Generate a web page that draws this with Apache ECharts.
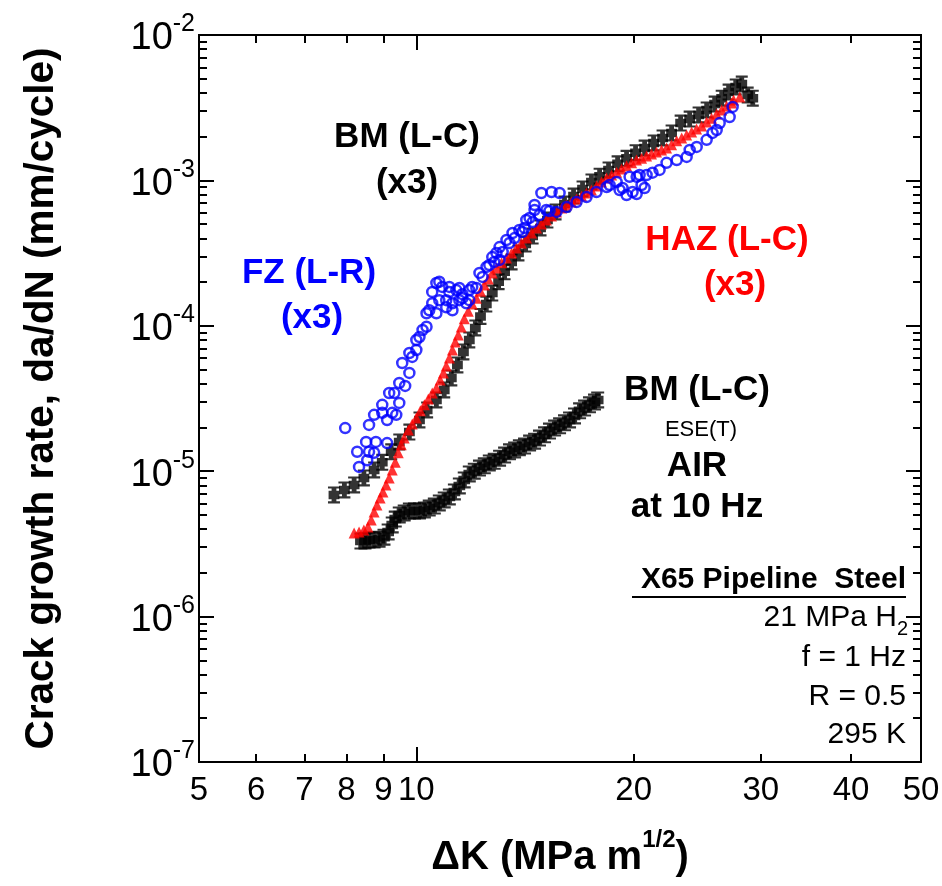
<!DOCTYPE html>
<html><head><meta charset="utf-8">
<script src="https://cdn.jsdelivr.net/npm/echarts@6/dist/echarts.min.js"></script>
<style>html,body{margin:0;padding:0;background:#fff}#c{width:942px;height:886px}</style>
</head><body><div id="c"></div>
<script>
// ---------- tick values ----------
const xTickLabels = [5, 6, 7, 8, 9, 10, 20, 30, 40, 50];
const xMinorTicks = [6, 7, 8, 9, 20, 30, 40];
const xMajorTicks = [10];
const yMajorTicks = [1e-7, 1e-6, 1e-5, 1e-4, 1e-3, 1e-2];
const yMinorTicks = [2e-7,3e-7,4e-7,5e-7,6e-7,7e-7,8e-7,9e-7,
  2e-6,3e-6,4e-6,5e-6,6e-6,7e-6,8e-6,9e-6,
  2e-5,3e-5,4e-5,5e-5,6e-5,7e-5,8e-5,9e-5,
  2e-4,3e-4,4e-4,5e-4,6e-4,7e-4,8e-4,9e-4,
  2e-3,3e-3,4e-3,5e-3,6e-3,7e-3,8e-3,9e-3];

// ---------- BM (L-C) in 21 MPa H2 (black, error bars) ----------
const bmH2K = [7.69,7.95,8.20,8.46,8.74,8.97,9.23,9.47,9.78,10.10,10.35,10.66,10.93,11.18,11.40,
  11.62,11.84,12.07,12.27,12.50,12.74,13.00,13.25,13.55,13.85,14.17,14.49,14.86,15.19,15.59,
  16.04,16.51,16.99,17.48,17.94,18.46,19.00,19.55,20.12,20.71,21.31,21.93,22.57,23.23,23.91,
  24.60,25.24,25.89,26.48,27.07,27.69,28.23,28.77,29.24];
const bmH2Rate = [6.87e-6,7.43e-6,8.04e-6,8.98e-6,1.02e-5,1.15e-5,1.36e-5,1.59e-5,1.86e-5,2.25e-5,
  2.64e-5,3.09e-5,3.62e-5,4.38e-5,5.38e-5,6.61e-5,7.99e-5,9.66e-5,1.16e-4,1.41e-4,
  1.68e-4,2.01e-4,2.35e-4,2.75e-4,3.17e-4,3.65e-4,4.14e-4,4.71e-4,5.34e-4,6.07e-4,
  6.88e-4,7.81e-4,8.73e-4,9.75e-4,1.07e-3,1.18e-3,1.30e-3,1.42e-3,1.55e-3,1.67e-3,
  1.81e-3,1.96e-3,2.12e-3,2.48e-3,2.64e-3,2.82e-3,3.05e-3,3.35e-3,3.68e-3,4.05e-3,
  4.39e-3,4.60e-3,3.86e-3,3.68e-3];

// ---------- HAZ (L-C) (red triangles) ----------
const hazK = [8.20,8.33,8.46,8.57,8.66,8.74,8.82,8.91,8.99,9.08,9.17,9.26,9.35,9.44,9.53,9.62,9.75,9.87,10.00,10.13,
  10.26,10.39,10.52,10.66,10.79,10.90,11.00,11.11,11.22,11.32,11.43,11.54,11.65,11.80,11.95,12.11,12.27,12.42,12.58,12.74,
  12.91,13.12,13.33,13.55,13.76,13.98,14.21,14.44,14.67,14.90,15.14,15.39,15.64,15.89,16.14,16.40,16.67,16.94,17.20,17.48,
  17.77,18.05,18.34,18.64,18.94,19.24,19.55,19.87,20.18,20.51,20.84,21.17,21.51,21.86,22.21,22.57,22.94,23.31,23.68,24.06,
  24.44,24.84,25.24,25.64,26.06,26.48,26.90,27.33,27.51,28.05];
const hazRate = [3.76e-6,3.82e-6,3.94e-6,4.13e-6,4.62e-6,5.24e-6,5.86e-6,6.54e-6,7.20e-6,8.04e-6,
  8.98e-6,1.02e-5,1.15e-5,1.34e-5,1.52e-5,1.69e-5,1.92e-5,2.11e-5,2.32e-5,2.60e-5,
  2.86e-5,3.14e-5,3.45e-5,3.74e-5,4.24e-5,4.74e-5,5.29e-5,6.01e-5,6.82e-5,7.74e-5,
  8.65e-5,9.82e-5,1.12e-4,1.26e-4,1.41e-4,1.55e-4,1.73e-4,1.91e-4,2.10e-4,2.31e-4,
  2.50e-4,2.71e-4,2.93e-4,3.17e-4,3.43e-4,3.71e-4,4.01e-4,4.35e-4,4.71e-4,5.01e-4,
  5.34e-4,5.69e-4,6.07e-4,6.46e-4,6.77e-4,7.10e-4,7.45e-4,7.81e-4,8.19e-4,8.59e-4,
  9.15e-4,9.75e-4,1.04e-3,1.09e-3,1.14e-3,1.20e-3,1.26e-3,1.32e-3,1.38e-3,1.42e-3,
  1.47e-3,1.52e-3,1.57e-3,1.62e-3,1.67e-3,1.76e-3,1.87e-3,1.96e-3,2.05e-3,2.15e-3,
  2.26e-3,2.37e-3,2.52e-3,2.68e-3,2.86e-3,3.05e-3,3.25e-3,3.40e-3,3.57e-3,3.74e-3];

// ---------- FZ (L-R) (blue open circles) ----------
const fzK = [7.97,8.28,8.33,8.52,8.60,8.55,8.79,8.74,9.11,8.60,8.74,8.97,9.11,9.38,8.97,9.47,9.17,9.32,9.47,9.65,
  9.26,9.56,9.78,9.78,9.87,10.00,10.00,10.10,10.20,10.33,10.33,10.42,10.52,10.66,10.76,11.00,10.52,10.66,10.76,10.86,
  11.11,11.11,11.36,11.58,11.58,11.00,11.22,11.22,11.47,11.73,11.84,11.95,12.11,12.23,12.35,12.51,12.62,12.74,12.91,13.04,
  13.04,13.33,13.46,13.59,13.89,14.02,14.20,14.35,14.58,14.58,14.90,15.14,15.39,15.64,15.79,16.15,16.67,17.21,17.76,18.35,
  18.52,18.94,19.12,19.30,19.55,19.93,20.19,20.51,20.71,19.74,20.19,20.38,20.84,21.24,21.72,22.21,22.94,23.68,24.45,25.24,
  25.72,26.31,27.16,27.42,12.82,13.17,13.68,14.12,14.49,14.81,15.29,11.84,11.47,23.91,26.06];
const fzRate = [1.98e-5,1.36e-5,1.07e-5,1.59e-5,1.36e-5,1.19e-5,1.59e-5,1.34e-5,1.56e-5,2.08e-5,
  2.44e-5,2.86e-5,2.25e-5,2.44e-5,2.52e-5,2.95e-5,3.45e-5,3.45e-5,4.04e-5,3.86e-5,
  2.52e-5,5.55e-5,4.74e-5,6.50e-5,6.11e-5,6.82e-5,7.99e-5,8.38e-5,9.36e-5,9.85e-5,
  1.22e-4,1.28e-4,1.43e-4,1.22e-4,1.50e-4,1.34e-4,1.71e-4,1.97e-4,2.01e-4,1.85e-4,
  1.85e-4,1.71e-4,1.76e-4,1.65e-4,1.55e-4,1.50e-4,1.43e-4,1.28e-4,1.50e-4,1.43e-4,
  1.50e-4,1.85e-4,1.82e-4,2.31e-4,2.17e-4,2.54e-4,2.62e-4,2.97e-4,3.17e-4,2.84e-4,
  3.48e-4,3.89e-4,3.71e-4,4.35e-4,4.56e-4,4.42e-4,5.34e-4,5.52e-4,6.26e-4,6.77e-4,
  8.19e-4,6.26e-4,8.32e-4,6.07e-4,8.19e-4,6.56e-4,7.10e-4,7.69e-4,8.32e-4,9.01e-4,
  9.30e-4,9.75e-4,8.59e-4,8.86e-4,7.94e-4,8.32e-4,8.06e-4,9.30e-4,8.86e-4,1.06e-3,
  1.06e-3,1.09e-3,1.09e-3,1.13e-3,1.18e-3,1.32e-3,1.38e-3,1.45e-3,1.70e-3,1.90e-3,
  2.12e-3,2.48e-3,2.73e-3,3.20e-3,2.75e-4,3.22e-4,4.01e-4,4.71e-4,5.17e-4,5.78e-4,
  6.16e-4,1.76e-4,1.82e-4,1.62e-3,2.22e-3];

// ---------- BM (L-C) in air at 10 Hz (black squares) ----------
const bmAirK = [8.38,8.49,8.60,8.74,8.88,9.02,9.14,9.26,9.35,9.47,9.62,9.78,9.94,10.10,10.26,10.42,10.59,10.76,10.93,11.11,
  11.29,11.47,11.65,11.84,12.03,12.23,12.42,12.62,12.82,13.04,13.25,13.46,13.68,13.89,14.12,14.35,14.58,14.81,15.05,15.29,
  15.54,15.79,16.04,16.30,16.56,16.83,17.10,17.37,17.65,17.83];
const bmAirRate = [3.31e-6,3.31e-6,3.36e-6,3.36e-6,3.41e-6,3.52e-6,3.82e-6,4.27e-6,4.69e-6,5.00e-6,
  5.16e-6,5.33e-6,5.33e-6,5.33e-6,5.41e-6,5.58e-6,5.76e-6,6.05e-6,6.34e-6,6.65e-6,
  7.20e-6,7.92e-6,8.70e-6,9.57e-6,1.00e-5,1.05e-5,1.09e-5,1.14e-5,1.17e-5,1.23e-5,
  1.29e-5,1.36e-5,1.40e-5,1.45e-5,1.49e-5,1.56e-5,1.61e-5,1.69e-5,1.78e-5,1.89e-5,
  1.98e-5,2.05e-5,2.15e-5,2.25e-5,2.40e-5,2.60e-5,2.72e-5,2.86e-5,2.99e-5,3.09e-5];

// ---------- rendering ----------
const FONT = '"Liberation Sans", Arial, Helvetica, sans-serif';
const zip = (a, b) => a.map((v, i) => [v, b[i]]);
const IBEAM = 'path://M0,0H10V2H7V4H9.5V12H7V14H10V16H0V14H3V12H0.5V4H3V2H0Z';
const TICKLINE = {color: '#000', width: 2};

function xAxisDef(pos, ticks, len, withLabel) {
  const ax = {
    type: 'log', logBase: 10, min: 5, max: 50, position: pos, gridIndex: 0,
    axisLine: {show: withLabel !== null, onZero: false, lineStyle: {color: '#000', width: 2}},
    axisTick: {show: true, inside: true, length: len, customValues: ticks, lineStyle: TICKLINE},
    axisLabel: {show: false},
    splitLine: {show: false}, minorTick: {show: false}, minorSplitLine: {show: false}
  };
  if (withLabel) {
    ax.axisLabel = {show: true, customValues: xTickLabels, margin: 12, color: '#000',
      fontSize: 33, fontFamily: FONT, formatter: v => String(Math.round(v))};
    ax.name = '{a|\u0394K (MPa m}{s|1/2}{a|)}';
    ax.nameLocation = 'middle';
    ax.nameGap = 66;
    ax.nameMoveOverlap = false;
    ax.nameTextStyle = {rich: {
      a: {fontSize: 40, fontWeight: 'bold', fontFamily: FONT, color: '#000', lineHeight: 50, verticalAlign: 'bottom'},
      s: {fontSize: 24, fontWeight: 'bold', fontFamily: FONT, color: '#000', lineHeight: 24, verticalAlign: 'top'}
    }};
  }
  return ax;
}
function yAxisDef(pos, ticks, len, withLabel) {
  const ax = {
    type: 'log', logBase: 10, min: 1e-7, max: 1e-2, position: pos, gridIndex: 0,
    axisLine: {show: withLabel !== null, onZero: false, lineStyle: {color: '#000', width: 2}},
    axisTick: {show: true, inside: true, length: len, customValues: ticks, lineStyle: TICKLINE},
    axisLabel: {show: false},
    splitLine: {show: false}, minorTick: {show: false}, minorSplitLine: {show: false}
  };
  if (withLabel) {
    ax.axisLabel = {show: true, customValues: yMajorTicks, margin: 4,
      formatter: v => '{b|10}{s|' + Math.round(Math.log10(v)) + '}',
      rich: {
        b: {fontSize: 38, fontFamily: FONT, color: '#000', lineHeight: 46, verticalAlign: 'bottom'},
        s: {fontSize: 25, fontFamily: FONT, color: '#000', lineHeight: 26, verticalAlign: 'top'}
      }};
    ax.name = 'Crack growth rate, da/dN (mm/cycle)';
    ax.nameLocation = 'middle';
    ax.nameGap = 137;
    ax.nameMoveOverlap = false;
    ax.nameTextStyle = {fontSize: 40.5, fontWeight: 'bold', fontFamily: FONT, color: '#000'};
  }
  return ax;
}

function txt(text, x, y, opt) {
  opt = opt || {};
  const size = opt.size || 35;
  const weight = opt.weight || 'bold';
  const al = opt.align || 'center';
  return {
    type: 'text', x: x, y: y, silent: true, z: 10,
    style: {
      text: text, fill: opt.color || '#000',
      font: weight + ' ' + size + 'px ' + FONT,
      align: al, textAlign: al, verticalAlign: 'middle', textVerticalAlign: 'middle',
      rich: opt.rich
    }
  };
}

const graphics = [
  txt('BM (L-C)', 407, 137),
  txt('(x3)', 407, 183),
  txt('FZ (L-R)', 309, 273, {color: '#0000ff'}),
  txt('(x3)', 312, 318, {color: '#0000ff'}),
  txt('HAZ (L-C)', 727, 240, {color: '#ff0000'}),
  txt('(x3)', 735, 285, {color: '#ff0000'}),
  txt('BM (L-C)', 697, 390),
  txt('ESE(T)', 701, 430, {size: 22, weight: 'normal'}),
  txt('AIR', 697, 466),
  txt('at 10 Hz', 697, 507),
  txt('X65 Pipeline  Steel', 906, 580, {size: 30, align: 'right'}),
  txt('{a|21 MPa H}{b|2}', 908, 621, {size: 30, weight: 'normal', align: 'right', rich: {
    a: {font: 'normal 30px ' + FONT, fill: '#000', lineHeight: 36, verticalAlign: 'top'},
    b: {font: 'normal 20px ' + FONT, fill: '#000', lineHeight: 14, verticalAlign: 'bottom'}
  }}),
  txt('f = 1 Hz', 906, 658, {size: 30, weight: 'normal', align: 'right'}),
  txt('R = 0.5', 906, 697, {size: 30, weight: 'normal', align: 'right'}),
  txt('295 K', 906, 735, {size: 30, weight: 'normal', align: 'right'}),
  {type: 'line', silent: true, z: 10, shape: {x1: 632, y1: 597, x2: 906, y2: 597}, style: {stroke: '#000', lineWidth: 2}}
];

const chart = echarts.init(document.getElementById('c'), null, {renderer: 'canvas', width: 942, height: 886});
chart.setOption({
  animation: false,
  backgroundColor: '#fff',
  grid: {left: 199, top: 35, width: 722, height: 727, containLabel: false, outerBoundsMode: 'none'},
  xAxis: [
    xAxisDef('bottom', xMinorTicks, 8, true),
    xAxisDef('bottom', xMajorTicks, 15, false),
    xAxisDef('top', xMinorTicks, 8, false),
    xAxisDef('top', xMajorTicks, 15, false)
  ],
  yAxis: [
    yAxisDef('left', yMajorTicks, 15, true),
    yAxisDef('left', yMinorTicks, 8, false),
    yAxisDef('right', yMajorTicks, 15, false),
    yAxisDef('right', yMinorTicks, 8, false)
  ],
  series: [
    {type: 'scatter', name: 'BM (L-C) H2', data: zip(bmH2K, bmH2Rate), symbol: IBEAM, symbolSize: [12, 17],
      itemStyle: {color: '#000'}, z: 2, silent: true},
    {type: 'scatter', name: 'BM (L-C) air', data: zip(bmAirK, bmAirRate), symbol: IBEAM, symbolSize: [13, 17],
      itemStyle: {color: '#000'}, z: 2, silent: true},
    {type: 'scatter', name: 'HAZ (L-C)', data: zip(hazK, hazRate), symbol: 'triangle', symbolSize: 11,
      itemStyle: {color: '#ff0000'}, z: 3, silent: true},
    {type: 'scatter', name: 'FZ (L-R)', data: zip(fzK, fzRate), symbol: 'circle', symbolSize: 10,
      itemStyle: {color: 'rgba(255,255,255,0)', borderColor: '#0000ff', borderWidth: 2.5}, z: 4, silent: true}
  ],
  graphic: graphics
});
</script></body></html>
